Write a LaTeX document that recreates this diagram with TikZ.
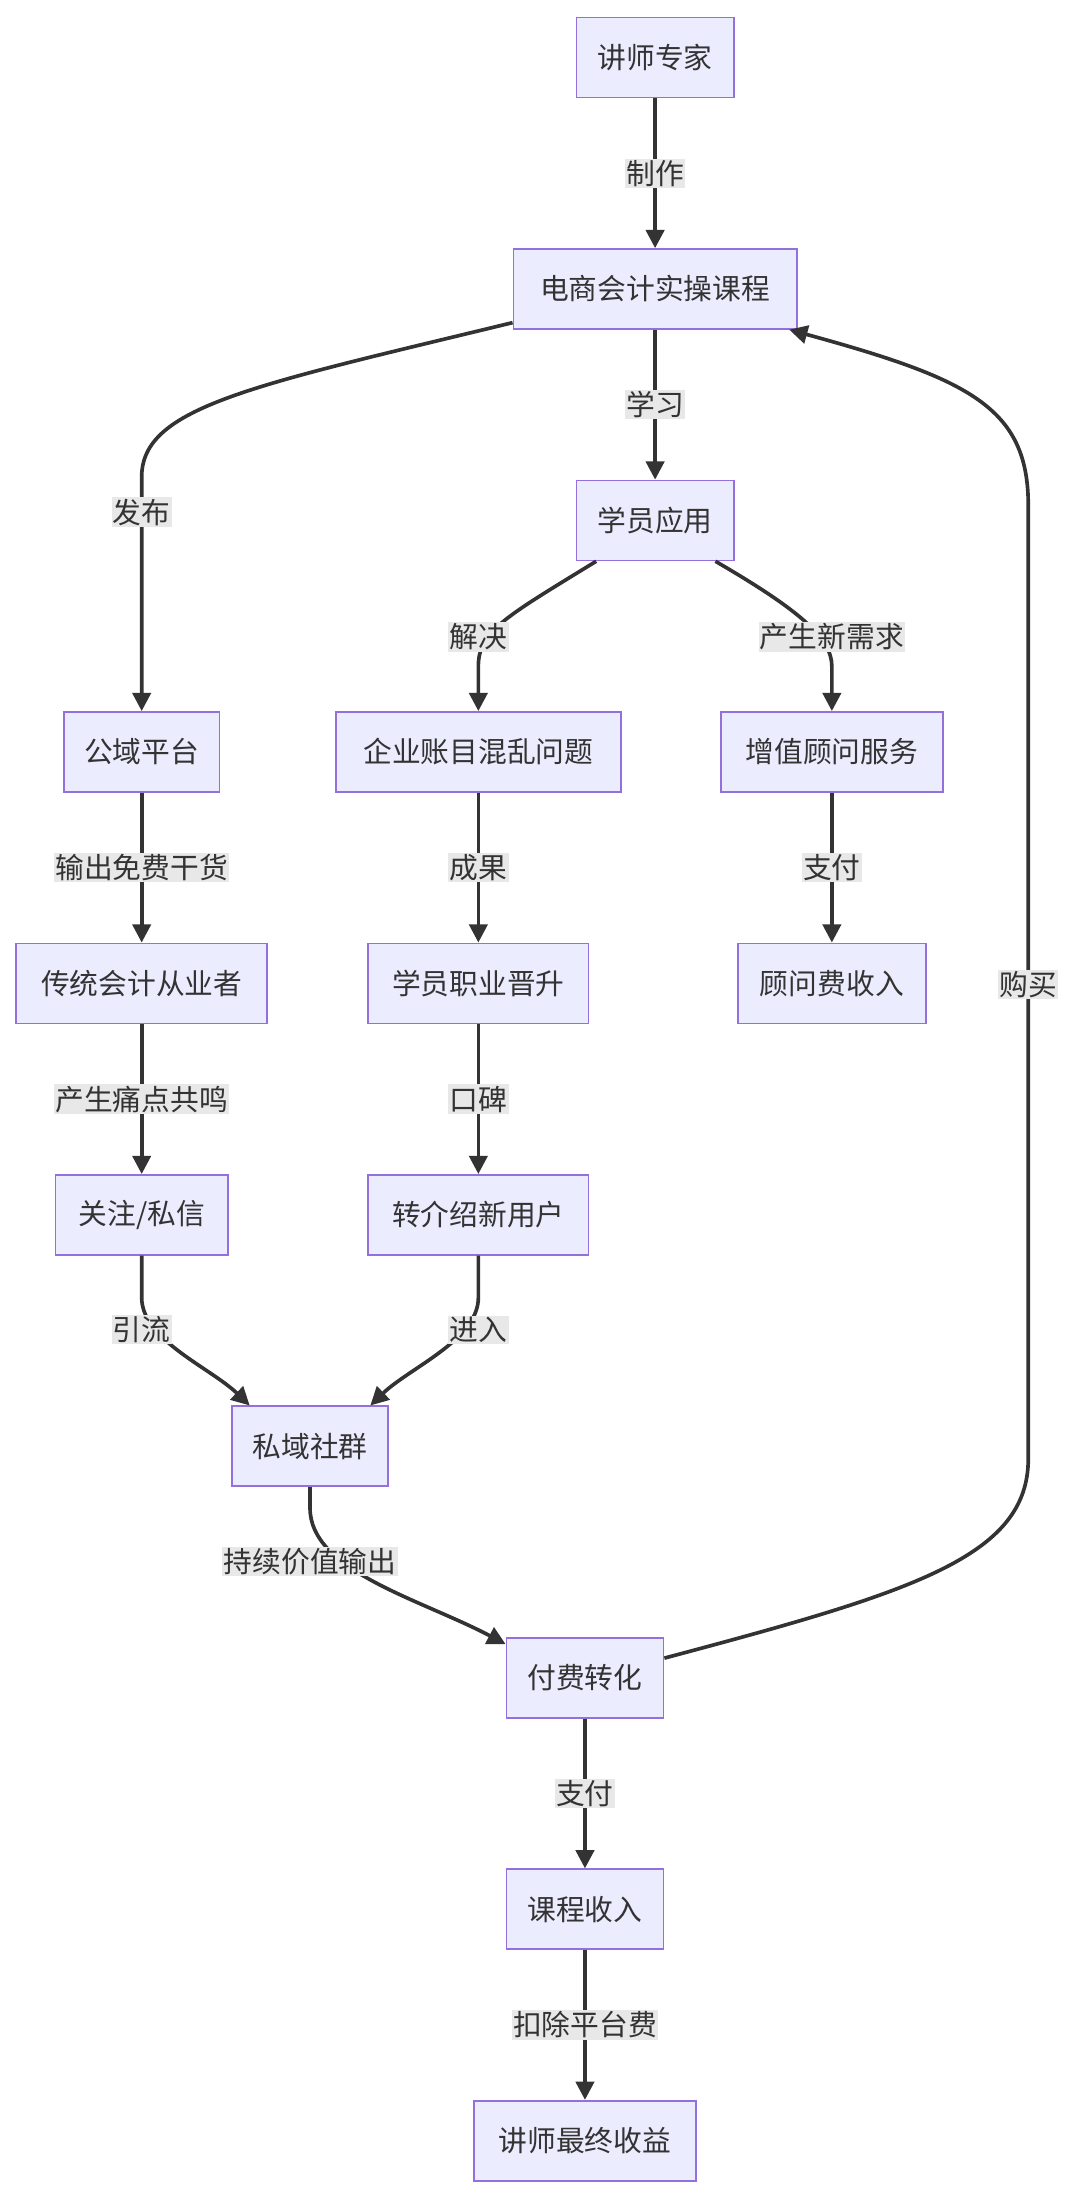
\documentclass[tikz,border=0pt]{standalone}
\usepackage{fontspec}
\setmainfont{Noto Sans CJK SC}
\usetikzlibrary{arrows.meta,calc}
\definecolor{nfill}{HTML}{ECECFF}
\definecolor{nstroke}{HTML}{9370DB}
\definecolor{lcol}{HTML}{333333}
\definecolor{lbg}{HTML}{E8E8E8}
\begin{document}
\begin{tikzpicture}[x=1pt,y=-1pt,
 box/.style={draw=nstroke,fill=nfill,line width=1.2pt,minimum height=57pt,inner xsep=10pt,font=\fontsize{20.5}{24}\selectfont,text=lcol},
 e/.style={draw=lcol,line width=2.6pt,-{Triangle[length=13pt,width=13pt]}},
 lab/.style={fill=lbg,inner sep=1pt,font=\fontsize{20.5}{24}\selectfont,text=lcol}]
\useasboundingbox (0,0) rectangle (770,1574);
\node[box,minimum width=112pt] (a) at (467,41) {讲师专家};
\node[box,minimum width=202pt] (b) at (467,206) {电商会计实操课程};
\node[box,minimum width=112pt] (c) at (467,371) {学员应用};
\node[box,minimum width=111pt] (d) at (101,536) {公域平台};
\node[box,minimum width=203pt] (f) at (341,536) {企业账目混乱问题};
\node[box,minimum width=158pt] (g) at (593,536) {增值顾问服务};
\node[box,minimum width=179pt] (h) at (101,701) {传统会计从业者};
\node[box,minimum width=157pt] (i) at (341,701) {学员职业晋升};
\node[box,minimum width=134pt] (j) at (593,701) {顾问费收入};
\node[box,minimum width=123pt] (k) at (101,866) {关注/私信};
\node[box,minimum width=157pt] (l) at (341,866) {转介绍新用户};
\node[box,minimum width=111pt] (m) at (221,1031) {私域社群};
\node[box,minimum width=112pt] (n) at (417,1196) {付费转化};
\node[box,minimum width=112pt] (o) at (417,1361) {课程收入};
\node[box,minimum width=158pt] (p) at (417,1526) {讲师最终收益};

\draw[e] (a) -- node[lab]{制作} (b);
\draw[e] (b) -- node[lab]{学习} (c);
\draw[e] (b.west|-0,230) .. controls (180,275) and (101,290) .. (101,340) -- node[lab,pos=0.15]{发布} (d.north);
\draw[e] ($(c.south)+(-42,0)$) .. controls (360,440) and (341,450) .. (341,475) -- (f.north);
\node[lab] at (341,454) {解决};
\draw[e] ($(c.south)+(43,0)$) .. controls (570,435) and (593,455) .. (593,475) -- (g.north);
\node[lab] at (593,454) {产生新需求};
\draw[e] (d) -- node[lab]{输出免费干货} (h);
\draw[e] (f) -- node[lab]{成果} (i);
\draw[e] (g) -- node[lab]{支付} (j);
\draw[e] (h) -- node[lab]{产生痛点共鸣} (k);
\draw[e] (i) -- node[lab]{口碑} (l);
\draw[e] (k.south) -- (101,925) .. controls (101,955) and (150,975) .. ($(m.north)+(-43,0)$);
\node[lab] at (101,948) {引流};
\draw[e] (l.south) -- (341,925) .. controls (341,955) and (292,975) .. ($(m.north)+(43,0)$);
\node[lab] at (341,948) {进入};
\draw[e] (m.south) -- (221,1075) .. controls (221,1120) and (300,1140) .. ($(n.west)+(0,-24)$);
\node[lab] at (221,1113) {持续价值输出};
\draw[e] (n) -- node[lab]{支付} (o);
\draw[e] (o) -- node[lab]{扣除平台费} (p);
\draw[e] ($(n.east)+(0,-14)$) .. controls (650,1135) and (733,1110) .. (733,1040) -- (733,360) .. controls (733,290) and (690,270) .. ($(b.east)+(-6,29)$);
\node[lab] at (733,702) {购买};
\end{tikzpicture}
\end{document}
